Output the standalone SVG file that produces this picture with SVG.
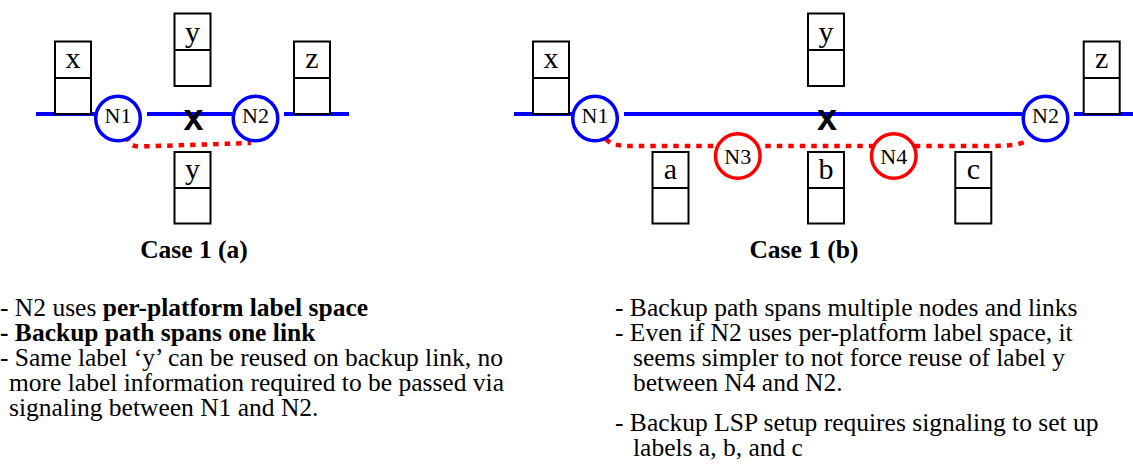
<svg xmlns="http://www.w3.org/2000/svg" width="1133" height="466" viewBox="0 0 1133 466">
<style>
.link{stroke:#0000FF;stroke-width:4;fill:none}
.backup{stroke:#FF0000;stroke-width:4.5;fill:none;stroke-dasharray:5.5 6}
.nb{fill:#fff;stroke:#0000FF;stroke-width:3.5}
.nr{fill:#fff;stroke:#FF0000;stroke-width:3.5}
.box{fill:#fff;stroke:#000;stroke-width:2}
.div{stroke:#000;stroke-width:2}
.nl{font-family:"Liberation Serif","Times New Roman",serif;font-size:22px;text-anchor:middle;fill:#000}
.bl{font-family:"Liberation Serif","Times New Roman",serif;font-size:30px;text-anchor:middle;fill:#000}
.cut{font-family:"Liberation Sans",Arial,sans-serif;font-weight:bold;font-size:36px;text-anchor:middle;fill:#000}
.cap{font-family:"Liberation Serif","Times New Roman",serif;font-weight:bold;font-size:25.5px;text-anchor:middle;fill:#000}
.tx{font-family:"Liberation Serif","Times New Roman",serif;font-size:25.5px;fill:#000}
.b{font-weight:bold}
</style>
<rect width="1133" height="466" fill="#fff"/>
<g id="connectors">
<line class="link" x1="36" y1="114" x2="100" y2="114"/>
<line class="link" x1="147" y1="114" x2="232" y2="114"/>
<line class="link" x1="284" y1="114" x2="349" y2="114"/>
<path class="backup" d="M127,136 C128,144 132,146.5 140,146.5 L251,143"/>
<line class="link" x1="514" y1="114" x2="578" y2="114"/>
<line class="link" x1="624" y1="114" x2="1022" y2="114"/>
<line class="link" x1="1074" y1="114" x2="1133" y2="114"/>
<path class="backup" d="M606,139 C611,145 620,146 632,146 L990,146 C1005,146 1020,145 1027,141"/>
</g>
<g id="case-a">
<g id="a-box-x"><rect class="box" x="55" y="41.5" width="36" height="72.5"/><line class="div" x1="55" y1="78" x2="91" y2="78"/><text class="bl" x="73" y="68">x</text></g>
<g id="a-box-y-top"><rect class="box" x="174.5" y="13.5" width="36" height="72.5"/><line class="div" x1="174.5" y1="50" x2="210.5" y2="50"/><text class="bl" x="192.5" y="42">y</text></g>
<g id="a-box-z"><rect class="box" x="294" y="41.5" width="36" height="72.5"/><line class="div" x1="294" y1="78" x2="330" y2="78"/><text class="bl" x="312" y="68">z</text></g>
<g id="a-box-y-bottom"><rect class="box" x="174.5" y="152" width="36" height="71.5"/><line class="div" x1="174.5" y1="188" x2="210.5" y2="188"/><text class="bl" x="192.5" y="179">y</text></g>
<g id="a-N1"><circle class="nb" cx="118" cy="118.5" r="22.3"/><text class="nl" x="118" y="122.5">N1</text></g>
<g id="a-N2"><circle class="nb" cx="255.5" cy="118.5" r="22.3"/><text class="nl" x="255.5" y="122.5">N2</text></g>
<g id="a-cut"><text class="cut" x="193.5" y="130">x</text></g>
<text class="cap" x="194" y="258">Case 1 (a)</text>
</g>
<g id="case-b">
<g id="b-box-x"><rect class="box" x="533" y="41.5" width="36" height="72.5"/><line class="div" x1="533" y1="78" x2="569" y2="78"/><text class="bl" x="551" y="68">x</text></g>
<g id="b-box-y"><rect class="box" x="808" y="13.5" width="36" height="72.5"/><line class="div" x1="808" y1="50" x2="844" y2="50"/><text class="bl" x="826" y="42">y</text></g>
<g id="b-box-z"><rect class="box" x="1083.7" y="41.5" width="36" height="72.5"/><line class="div" x1="1083.7" y1="78" x2="1119.7" y2="78"/><text class="bl" x="1101.7" y="68">z</text></g>
<g id="b-box-a"><rect class="box" x="652.5" y="152" width="36" height="71.5"/><line class="div" x1="652.5" y1="188" x2="688.5" y2="188"/><text class="bl" x="670.5" y="179">a</text></g>
<g id="b-box-b"><rect class="box" x="808" y="152" width="36" height="71.5"/><line class="div" x1="808" y1="188" x2="844" y2="188"/><text class="bl" x="826" y="179">b</text></g>
<g id="b-box-c"><rect class="box" x="955.3" y="152" width="36" height="71.5"/><line class="div" x1="955.3" y1="188" x2="991.3" y2="188"/><text class="bl" x="973.3" y="179">c</text></g>
<g id="b-N1"><circle class="nb" cx="595" cy="118.5" r="22.3"/><text class="nl" x="595" y="122.5">N1</text></g>
<g id="b-N2"><circle class="nb" cx="1045.5" cy="118.5" r="22.3"/><text class="nl" x="1045.5" y="122.5">N2</text></g>
<g id="b-N3"><circle class="nr" cx="737.8" cy="156" r="22.3"/><text class="nl" x="737.8" y="163.5">N3</text></g>
<g id="b-N4"><circle class="nr" cx="893.8" cy="156" r="22.3"/><text class="nl" x="893.8" y="163.5">N4</text></g>
<g id="b-cut"><text class="cut" x="827" y="129.5">x</text></g>
<text class="cap" x="804" y="258">Case 1 (b)</text>
</g>
<g id="notes-a">
<text class="tx" x="0" y="316">- N2 uses <tspan class="b">per-platform label space</tspan></text>
<text class="tx b" x="0" y="341">- Backup path spans one link</text>
<text class="tx" x="0" y="366">- Same label ‘y’ can be reused on backup link, no</text>
<text class="tx" x="9" y="391">more label information required to be passed via</text>
<text class="tx" x="9" y="416">signaling between N1 and N2.</text>
</g>
<g id="notes-b">
<text class="tx" x="615" y="316">- Backup path spans multiple nodes and links</text>
<text class="tx" x="615" y="341">- Even if N2 uses per-platform label space, it</text>
<text class="tx" x="633" y="366">seems simpler to not force reuse of label y</text>
<text class="tx" x="633" y="391">between N4 and N2.</text>
<text class="tx" x="615" y="431">- Backup LSP setup requires signaling to set up</text>
<text class="tx" x="633" y="456">labels a, b, and c</text>
</g>
</svg>
